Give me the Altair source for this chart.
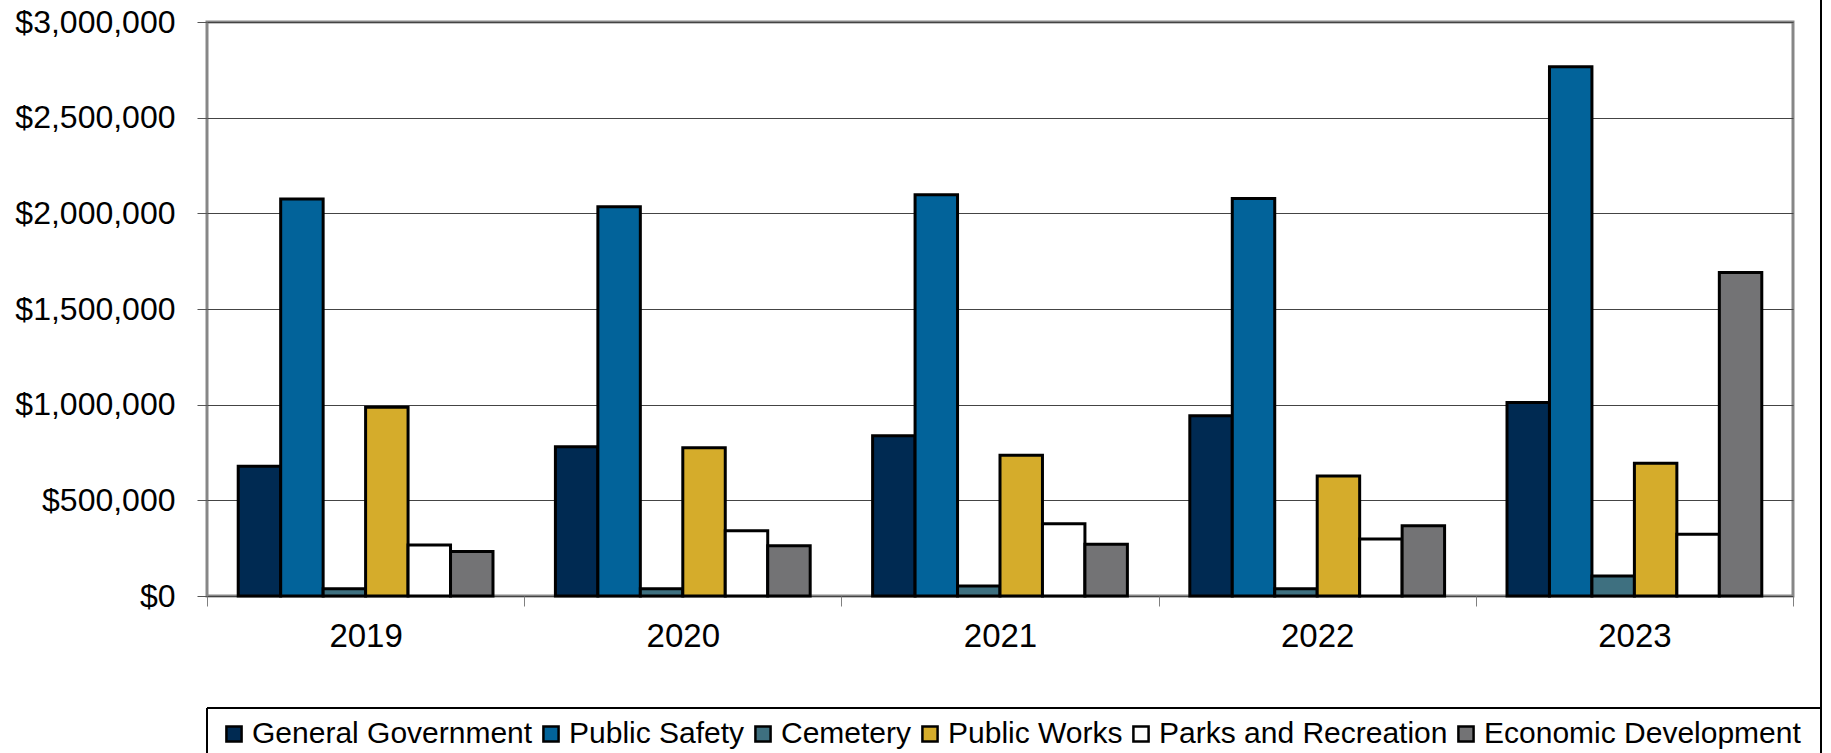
import altair as alt
import pandas as pd

years = ["2019", "2020", "2021", "2022", "2023"]
series = ["General Government", "Public Safety", "Cemetery", "Public Works",
          "Parks and Recreation", "Economic Development"]
colors = ["#002A52", "#02639A", "#3E7080", "#D5AC2B", "#FFFFFF", "#737375"]

general_government = [678000, 780000, 838000, 942000, 1011000]
public_safety = [2075000, 2034000, 2097000, 2077000, 2766000]
cemetery = [38000, 38000, 52000, 38000, 105000]
public_works = [986000, 775000, 735000, 627000, 694000]
parks_recreation = [266000, 341000, 378000, 298000, 323000]
economic_development = [232000, 263000, 270000, 367000, 1691000]

y_ticks = [0, 500000, 1000000, 1500000, 2000000, 2500000, 3000000]

values = [general_government, public_safety, cemetery, public_works,
          parks_recreation, economic_development]
rows = []
for s, vals in zip(series, values):
    for y, v in zip(years, vals):
        rows.append({"year": y, "series": s, "value": v})
df = pd.DataFrame(rows)

FONT = "Liberation Sans"

bars = alt.Chart(df).mark_bar(stroke="black", strokeWidth=3, strokeJoin="miter").encode(
    x=alt.X("year:N", sort=years, title=None,
            scale=alt.Scale(paddingInner=0, paddingOuter=0),
            axis=alt.Axis(labelAngle=0, labelFontSize=33, labelFont=FONT, labelColor="black",
                          tickBand="extent", tickSize=10, tickColor="#808080", tickWidth=1,
                          labelPadding=14, domain=False, grid=False)),
    xOffset=alt.XOffset("series:N", sort=series,
                        scale=alt.Scale(paddingOuter=0.735, paddingInner=0)),
    y=alt.Y("value:Q", title=None,
            scale=alt.Scale(domain=[0, 3000000], nice=False),
            axis=alt.Axis(values=y_ticks, format="$,.0f", labelFontSize=32, labelFont=FONT,
                          labelColor="black", tickSize=10, tickColor="#555555", labelPadding=22,
                          domain=False, gridColor="#444444", gridWidth=1)),
    color=alt.Color("series:N", sort=series,
                    scale=alt.Scale(domain=series, range=colors),
                    legend=alt.Legend(title=None, orient="none", legendX=1, legendY=686,
                                      direction="horizontal", columns=6,
                                      symbolType="square", symbolSize=230,
                                      symbolStrokeColor="black", symbolStrokeWidth=2.5,
                                      labelFontSize=30, labelFont=FONT, labelColor="black",
                                      labelLimit=0, labelOffset=3, columnPadding=3,
                                      padding=11)),
)

frame_top = alt.Chart(df).mark_rule(color="black", strokeWidth=1.5).encode(
    x=alt.value(0), x2=alt.value(1614), y=alt.value(686))
frame_left = alt.Chart(df).mark_rule(color="black", strokeWidth=1.5).encode(
    x=alt.value(0), y=alt.value(686), y2=alt.value(740))
frame_right = alt.Chart(df).mark_rule(color="black", strokeWidth=2).encode(
    x=alt.value(1614), y=alt.value(-22), y2=alt.value(740))

chart = alt.layer(bars, frame_top, frame_left, frame_right).properties(
    width=1586, height=574,
    autosize=alt.AutoSizeParams(type="none"),
    padding={"left": 207, "top": 22, "right": 38, "bottom": 157},
    background="white",
).configure_view(stroke="#878787", strokeWidth=3)

chart.save("out.html", embed_options={"renderer": "svg", "actions": False})
